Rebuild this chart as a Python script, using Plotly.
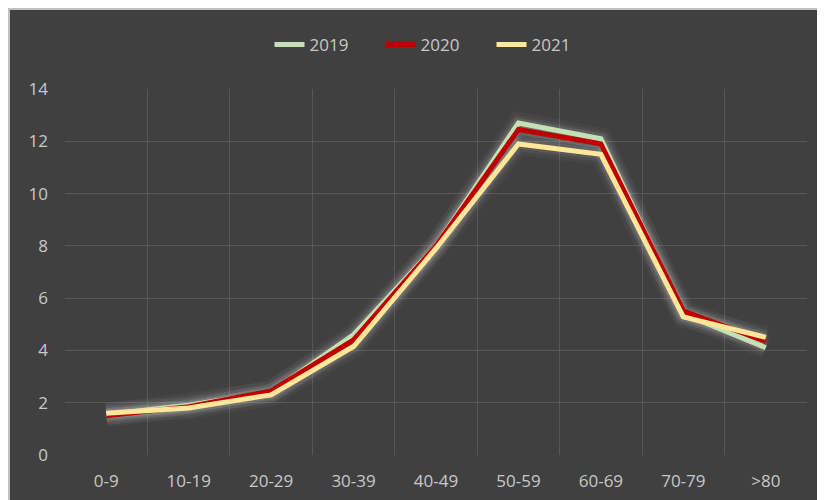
import plotly.graph_objects as go

categories = ["0-9", "10-19", "20-29", "30-39", "40-49", "50-59", "60-69", "70-79", ">80"]
s2019 = [1.55, 1.9, 2.4, 4.6, 8.0, 12.7, 12.1, 5.4, 4.1]
s2020 = [1.5, 1.85, 2.45, 4.4, 8.0, 12.45, 11.9, 5.5, 4.35]
s2021 = [1.6, 1.8, 2.3, 4.15, 7.9, 11.9, 11.5, 5.28, 4.5]
series = [("2019", s2019, "#c5e0b4"), ("2020", s2020, "#c00000"), ("2021", s2021, "#ffe699")]

FONT = "Open Sans"
TXT = "#c8c8c8"

fig = go.Figure()
# glow layers
for name, vals, col in series:
    for w, a in [(22, 0.04), (15, 0.06), (10, 0.09)]:
        fig.add_trace(go.Scatter(x=categories, y=vals, mode="lines", showlegend=False,
                                 hoverinfo="skip",
                                 line=dict(color=f"rgba(220,220,225,{a})", width=w)))
for name, vals, col in series:
    fig.add_trace(go.Scatter(x=categories, y=vals, mode="lines", name=name,
                             line=dict(color=col, width=5)))

W, H = 825, 500
L, R, T, B = 57, 26, 81, 53
pw, ph = W - L - R, H - T - B

def px_x(p):
    return (p - L) / pw

def px_y(p):
    return (H - B - p) / ph

# chart border (top and left visible)
fig.add_shape(type="rect", xref="paper", yref="paper",
              x0=px_x(1), x1=px_x(W + 5), y0=px_y(H + 5), y1=px_y(1),
              fillcolor="rgba(0,0,0,0)", line=dict(color="#c0c0c0", width=2), layer="below")

fig.update_layout(
    width=W, height=H,
    margin=dict(l=L, r=R, t=T, b=B),
    paper_bgcolor="#404040", plot_bgcolor="#404040",
    font=dict(family=FONT, size=17, color=TXT),
    legend=dict(orientation="h", x=px_x(428), xanchor="center", y=px_y(37), yanchor="middle",
                font=dict(family=FONT, size=17, color=TXT), bgcolor="rgba(0,0,0,0)",
                itemwidth=30, tracegroupgap=0, entrywidth=66, entrywidthmode="pixels"),
    xaxis=dict(type="category", range=[-0.5, 8.5], tickson="boundaries", showgrid=True,
               gridcolor="#575757", gridwidth=1, ticks="", showline=False, zeroline=False,
               ticklabelstandoff=14, tickfont=dict(family=FONT, size=17, color=TXT)),
    yaxis=dict(range=[0, 14], dtick=2, showgrid=True, gridcolor="#575757", gridwidth=1,
               zeroline=False, showline=False, ticks="", ticklabelstandoff=16,
               tickfont=dict(family=FONT, size=17, color=TXT)),
    showlegend=True,
)

fig.write_html("out.html")
